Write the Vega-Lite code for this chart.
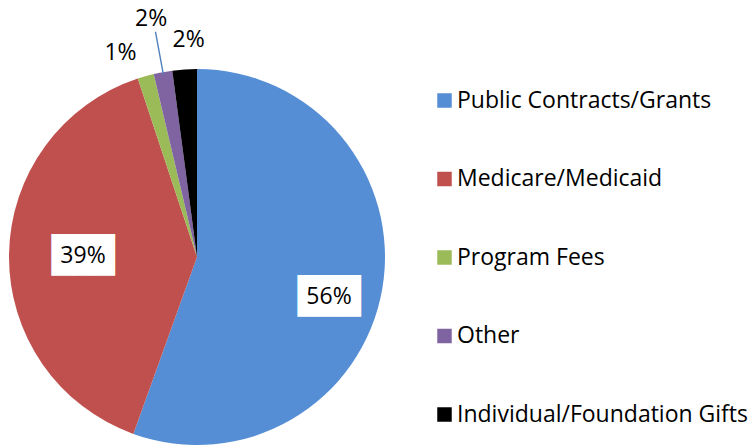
{
  "$schema": "https://vega.github.io/schema/vega-lite/v6.json",
  "width": 751,
  "height": 448,
  "autosize": {"type": "none"},
  "padding": 0,
  "background": "white",
  "config": {"view": {"stroke": null}},
  "data": {
    "values": [
      {"order": 1, "label": "Public Contracts/Grants", "value": 55.5, "pct": "56%"},
      {"order": 2, "label": "Medicare/Medicaid", "value": 39.4, "pct": "39%"},
      {"order": 3, "label": "Program Fees", "value": 1.4, "pct": "1%"},
      {"order": 4, "label": "Other", "value": 1.6, "pct": "2%"},
      {"order": 5, "label": "Individual/Foundation Gifts", "value": 2.1, "pct": "2%"}
    ]
  },
  "layer": [
    {
      "mark": {"type": "arc", "x": 197, "y": 257, "outerRadius": 188},
      "encoding": {
        "theta": {"field": "value", "type": "quantitative", "stack": true, "scale": {"domain": [0, 100]}},
        "order": {"field": "order", "type": "quantitative"},
        "color": {
          "field": "label",
          "type": "nominal",
          "sort": null,
          "scale": {
            "domain": ["Public Contracts/Grants", "Medicare/Medicaid", "Program Fees", "Other", "Individual/Foundation Gifts"],
            "range": ["#558ED5", "#C0504D", "#9BBB59", "#8064A2", "#000000"]
          },
          "legend": {
            "orient": "none",
            "legendX": 433,
            "legendY": 89,
            "title": null,
            "symbolType": "square",
            "symbolSize": 210,
            "symbolStrokeWidth": 0,
            "symbolOpacity": 1,
            "labelFont": "Open Sans",
            "labelFontSize": 23,
            "labelColor": "#000000",
            "labelOffset": 1,
            "rowPadding": 54.5,
            "padding": 0,
            "labelLimit": 400
          }
        }
      }
    },
    {
      "transform": [
        {"stack": "value", "groupby": [], "sort": [{"field": "order"}], "as": ["v0", "v1"]},
        {"filter": "datum.order == 4"},
        {"calculate": "(datum.v0 + datum.v1) / 2", "as": "mid"}
      ],
      "mark": {"type": "arc", "x": 197, "y": 257, "innerRadius": 186, "outerRadius": 229, "stroke": "#4F81BD", "strokeWidth": 1.4, "fill": null},
      "encoding": {
        "theta": {"field": "mid", "type": "quantitative", "scale": {"domain": [0, 100]}},
        "theta2": {"field": "mid"}
      }
    },
    {
      "mark": {"type": "text", "x": 197, "y": 257, "radius": 134, "dy": 17, "font": "DejaVu Sans Mono", "fontSize": 35, "align": "center", "baseline": "middle", "color": "white", "text": "███"},
      "encoding": {
        "theta": {"field": "value", "type": "quantitative", "stack": true},
        "order": {"field": "order", "type": "quantitative"},
        "detail": {"field": "label"},
        "opacity": {"condition": {"test": "datum.order == 1", "value": 1}, "value": 0}
      }
    },
    {
      "mark": {"type": "text", "x": 197, "y": 257, "radius": 114, "font": "DejaVu Sans Mono", "fontSize": 35, "align": "center", "baseline": "middle", "color": "white", "text": "███"},
      "encoding": {
        "theta": {"field": "value", "type": "quantitative", "stack": true},
        "order": {"field": "order", "type": "quantitative"},
        "detail": {"field": "label"},
        "opacity": {"condition": {"test": "datum.order == 2", "value": 1}, "value": 0}
      }
    },
    {
      "mark": {"type": "text", "x": 197, "y": 257, "radius": 134, "dy": 17, "font": "Open Sans", "fontSize": 23, "align": "center", "baseline": "middle", "color": "black"},
      "encoding": {
        "theta": {"field": "value", "type": "quantitative", "stack": true},
        "order": {"field": "order", "type": "quantitative"},
        "detail": {"field": "label"},
        "text": {"field": "pct"},
        "opacity": {"condition": {"test": "datum.order == 1", "value": 1}, "value": 0}
      }
    },
    {
      "mark": {"type": "text", "x": 197, "y": 257, "radius": 114, "font": "Open Sans", "fontSize": 23, "align": "center", "baseline": "middle", "color": "black"},
      "encoding": {
        "theta": {"field": "value", "type": "quantitative", "stack": true},
        "order": {"field": "order", "type": "quantitative"},
        "detail": {"field": "label"},
        "text": {"field": "pct"},
        "opacity": {"condition": {"test": "datum.order == 2", "value": 1}, "value": 0}
      }
    },
    {
      "mark": {"type": "text", "x": 197, "y": 257, "radius": 218, "dx": -17, "dy": 6, "font": "Open Sans", "fontSize": 23, "align": "center", "baseline": "middle", "color": "black"},
      "encoding": {
        "theta": {"field": "value", "type": "quantitative", "stack": true},
        "order": {"field": "order", "type": "quantitative"},
        "detail": {"field": "label"},
        "text": {"field": "pct"},
        "opacity": {"condition": {"test": "datum.order == 3", "value": 1}, "value": 0}
      }
    },
    {
      "mark": {"type": "text", "x": 197, "y": 257, "radius": 242, "dx": -2, "font": "Open Sans", "fontSize": 23, "align": "center", "baseline": "middle", "color": "black"},
      "encoding": {
        "theta": {"field": "value", "type": "quantitative", "stack": true},
        "order": {"field": "order", "type": "quantitative"},
        "detail": {"field": "label"},
        "text": {"field": "pct"},
        "opacity": {"condition": {"test": "datum.order == 4", "value": 1}, "value": 0}
      }
    },
    {
      "mark": {"type": "text", "x": 197, "y": 257, "radius": 217, "dx": 6, "font": "Open Sans", "fontSize": 23, "align": "center", "baseline": "middle", "color": "black"},
      "encoding": {
        "theta": {"field": "value", "type": "quantitative", "stack": true},
        "order": {"field": "order", "type": "quantitative"},
        "detail": {"field": "label"},
        "text": {"field": "pct"},
        "opacity": {"condition": {"test": "datum.order == 5", "value": 1}, "value": 0}
      }
    }
  ]
}
